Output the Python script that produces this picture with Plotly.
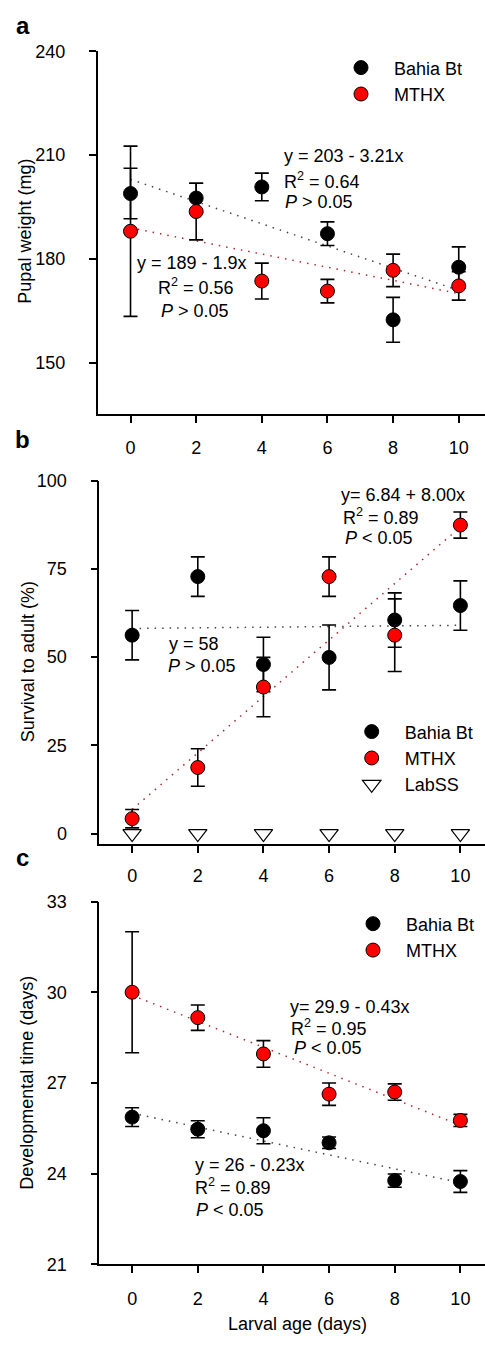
import plotly.graph_objects as go

W, H = 485, 1345
FONT = "Liberation Sans, Arial, Helvetica, sans-serif"

# ---------------- data ----------------
larval_age = [0, 2, 4, 6, 8, 10]

a_bahia = [198.9, 197.6, 200.8, 187.3, 162.4, 177.6]
a_bahia_se = [7.3, 4.3, 4.0, 3.4, 6.5, 5.9]
a_mthx = [188.0, 193.7, 173.6, 170.7, 176.7, 172.2]
a_mthx_se = [24.6, 8.2, 5.2, 3.4, 4.7, 4.1]

b_bahia = [56.2, 72.8, 47.9, 49.9, 60.5, 64.6]
b_bahia_se = [7.0, 5.6, 7.7, 9.2, 7.7, 7.0]
b_mthx = [4.2, 18.7, 41.5, 72.8, 56.2, 87.4]
b_mthx_se = [2.6, 5.3, 8.4, 5.6, 10.3, 3.7]
b_labss = [0, 0, 0, 0, 0, 0]

c_bahia = [25.87, 25.47, 25.42, 25.02, 23.77, 23.74]
c_bahia_se = [0.31, 0.28, 0.43, 0.19, 0.22, 0.36]
c_mthx = [30.0, 29.16, 27.96, 26.63, 26.70, 25.76]
c_mthx_se = [2.0, 0.42, 0.44, 0.37, 0.27, 0.20]

fit_x = [0, 10]
a_fit_bahia = [203, 170.9]
a_fit_mthx = [189, 170]
b_fit_bahia = [58.1, 59.0]
b_fit_mthx = [6.84, 86.84]
c_fit_bahia = [26, 23.7]
c_fit_mthx = [29.9, 25.6]

x_ticks = [0, 2, 4, 6, 8, 10]
a_yticks = [150, 180, 210, 240]
b_yticks = [0, 25, 50, 75, 100]
c_yticks = [21, 24, 27, 30, 33]

series_names = ["Bahia Bt", "MTHX", "LabSS"]
panel_letters = ["a", "b", "c"]
y_titles = ["Pupal weight (mg)", "Survival to adult (%)", "Developmental time (days)"]
x_title = "Larval age (days)"

# ---------------- helpers ----------------
def px(x):
    return x / W

def py(y):
    return 1 - y / H

BLACK = "#000000"
RED = "#ff0000"

fig = go.Figure()

panels = [
    ("x", "y", a_bahia, a_bahia_se, a_mthx, a_mthx_se, a_fit_bahia, a_fit_mthx, "legend"),
    ("x2", "y2", b_bahia, b_bahia_se, b_mthx, b_mthx_se, b_fit_bahia, b_fit_mthx, "legend2"),
    ("x3", "y3", c_bahia, c_bahia_se, c_mthx, c_mthx_se, c_fit_bahia, c_fit_mthx, "legend3"),
]

for xa, ya, bah, bah_se, mt, mt_se, fb, fm, lg in panels:
    # fitted lines
    fig.add_trace(go.Scatter(x=fit_x, y=fb, mode="lines", xaxis=xa, yaxis=ya,
                             line=dict(color="#444444", width=1.5, dash="1.5px,6px"),
                             showlegend=False, hoverinfo="skip"))
    fig.add_trace(go.Scatter(x=fit_x, y=fm, mode="lines", xaxis=xa, yaxis=ya,
                             line=dict(color="#b02828", width=1.5, dash="1.5px,6px"),
                             showlegend=False, hoverinfo="skip"))
    # error bars (drawn below all markers)
    for vals, se in ((bah, bah_se), (mt, mt_se)):
        fig.add_trace(go.Scatter(x=larval_age, y=vals, mode="markers", xaxis=xa, yaxis=ya,
                                 marker=dict(size=1, color="rgba(0,0,0,0)"),
                                 error_y=dict(type="data", array=se, visible=True,
                                              color=BLACK, thickness=1.6, width=7),
                                 showlegend=False, hoverinfo="skip"))
    # markers
    fig.add_trace(go.Scatter(x=larval_age, y=bah, mode="markers", xaxis=xa, yaxis=ya,
                             name=series_names[0], legend=lg,
                             marker=dict(size=14, color=BLACK, line=dict(color=BLACK, width=1))))
    fig.add_trace(go.Scatter(x=larval_age, y=mt, mode="markers", xaxis=xa, yaxis=ya,
                             name=series_names[1], legend=lg,
                             marker=dict(size=14, color=RED, line=dict(color=BLACK, width=1))))
    if xa == "x2":
        fig.add_trace(go.Scatter(x=larval_age, y=b_labss, mode="markers", xaxis=xa, yaxis=ya,
                                 name=series_names[2], legend=lg,
                                 marker=dict(size=16, symbol="triangle-down", color="white",
                                             line=dict(color=BLACK, width=1.2))))

axis_common = dict(showline=True, linecolor=BLACK, linewidth=1.6, ticks="outside",
                   ticklen=7, tickwidth=1.6, tickcolor=BLACK, showgrid=False, zeroline=False,
                   tickfont=dict(family=FONT, size=18, color=BLACK), mirror=False)

xdom_a = [px(97.7), 1]
xdom_bc = [px(99.3), 1]
XSO = 10   # x tick label standoff
YSO = 20   # y tick label standoff

layout = dict(
    width=W, height=H,
    margin=dict(l=0, r=0, t=0, b=0),
    paper_bgcolor="white", plot_bgcolor="white",
    font=dict(family=FONT, size=18, color=BLACK),
    xaxis=dict(domain=xdom_a, range=[-1, 10.8], tickvals=x_ticks, anchor="y",
               ticklabelstandoff=XSO, **axis_common),
    yaxis=dict(domain=[py(410), py(42)], range=[135.2, 240], tickvals=a_yticks, anchor="x",
               ticklabelstandoff=YSO, **axis_common),
    xaxis2=dict(domain=xdom_bc, range=[-1, 10.75], tickvals=x_ticks, anchor="y2",
                ticklabelstandoff=XSO - 3, **axis_common),
    yaxis2=dict(domain=[py(846.7), py(477.7)], range=[-3, 100], tickvals=b_yticks, anchor="x2",
                ticklabelstandoff=YSO, **axis_common),
    xaxis3=dict(domain=xdom_bc, range=[-1, 10.75], tickvals=x_ticks, anchor="y3",
                ticklabelstandoff=XSO, **axis_common),
    yaxis3=dict(domain=[py(1273.3), py(905)], range=[21, 33], tickvals=c_yticks, anchor="x3",
                ticklabelstandoff=YSO, **axis_common),
    legend=dict(x=px(361 - 33), y=py(40), xanchor="left", yanchor="top",
                bgcolor="rgba(0,0,0,0)", itemwidth=56, font=dict(family=FONT, size=18)),
    legend2=dict(x=px(371.7 - 33), y=py(714), xanchor="left", yanchor="top",
                 bgcolor="rgba(0,0,0,0)", itemwidth=56, font=dict(family=FONT, size=18)),
    legend3=dict(x=px(373 - 33), y=py(909), xanchor="left", yanchor="top",
                 bgcolor="rgba(0,0,0,0)", itemwidth=56, font=dict(family=FONT, size=18)),
    showlegend=True,
)
fig.update_layout(**layout)

ann = []

def txt(text, x, y, xanchor="left", size=18, bold=False, angle=0):
    ann.append(dict(text=text, x=px(x), y=py(y), xref="paper", yref="paper",
                    xanchor=xanchor, yanchor="middle", showarrow=False, textangle=angle,
                    font=dict(family=FONT, size=size, color=BLACK,
                              weight="bold" if bold else "normal")))

# panel letters
txt(panel_letters[0], 14, 16, size=24, bold=True)
txt(panel_letters[1], 13, 436, size=24, bold=True)
txt(panel_letters[2], 14, 860, size=24, bold=True)

# axis titles
txt(y_titles[0], 25, 225, xanchor="center", angle=-90)
txt(y_titles[1], 28, 662, xanchor="center", angle=-90)
txt(y_titles[2], 27, 1089, xanchor="center", angle=-90)
txt(x_title, 297, 1334, xanchor="center")

# panel a equations
txt("y = 203 - 3.21x", 282, 148)
txt("R<sup>2</sup> = 0.64", 282, 173)
txt("<i>P</i> &gt; 0.05", 283, 195)
txt("y = 189 - 1.9x", 191.5, 257, xanchor="center")
txt("R<sup>2</sup> = 0.56", 195.5, 281, xanchor="center")
txt("<i>P</i> &gt; 0.05", 195, 306, xanchor="center")

# panel b equations
txt("y= 6.84 + 8.00x", 339, 492)
txt("R<sup>2</sup> = 0.89", 341, 514)
txt("<i>P</i> &lt; 0.05", 343, 536)
txt("y = 58", 167, 644)
txt("<i>P</i> &gt; 0.05", 166, 666)

# panel c equations
txt("y= 29.9 - 0.43x", 288, 1012)
txt("R<sup>2</sup> = 0.95", 289, 1033)
txt("<i>P</i> &lt; 0.05", 292, 1054)
txt("y = 26 - 0.23x", 193, 1172)
txt("R<sup>2</sup> = 0.89", 193, 1194)
txt("<i>P</i> &lt; 0.05", 194, 1218)

fig.update_layout(annotations=ann)

fig.write_html("out.html")
